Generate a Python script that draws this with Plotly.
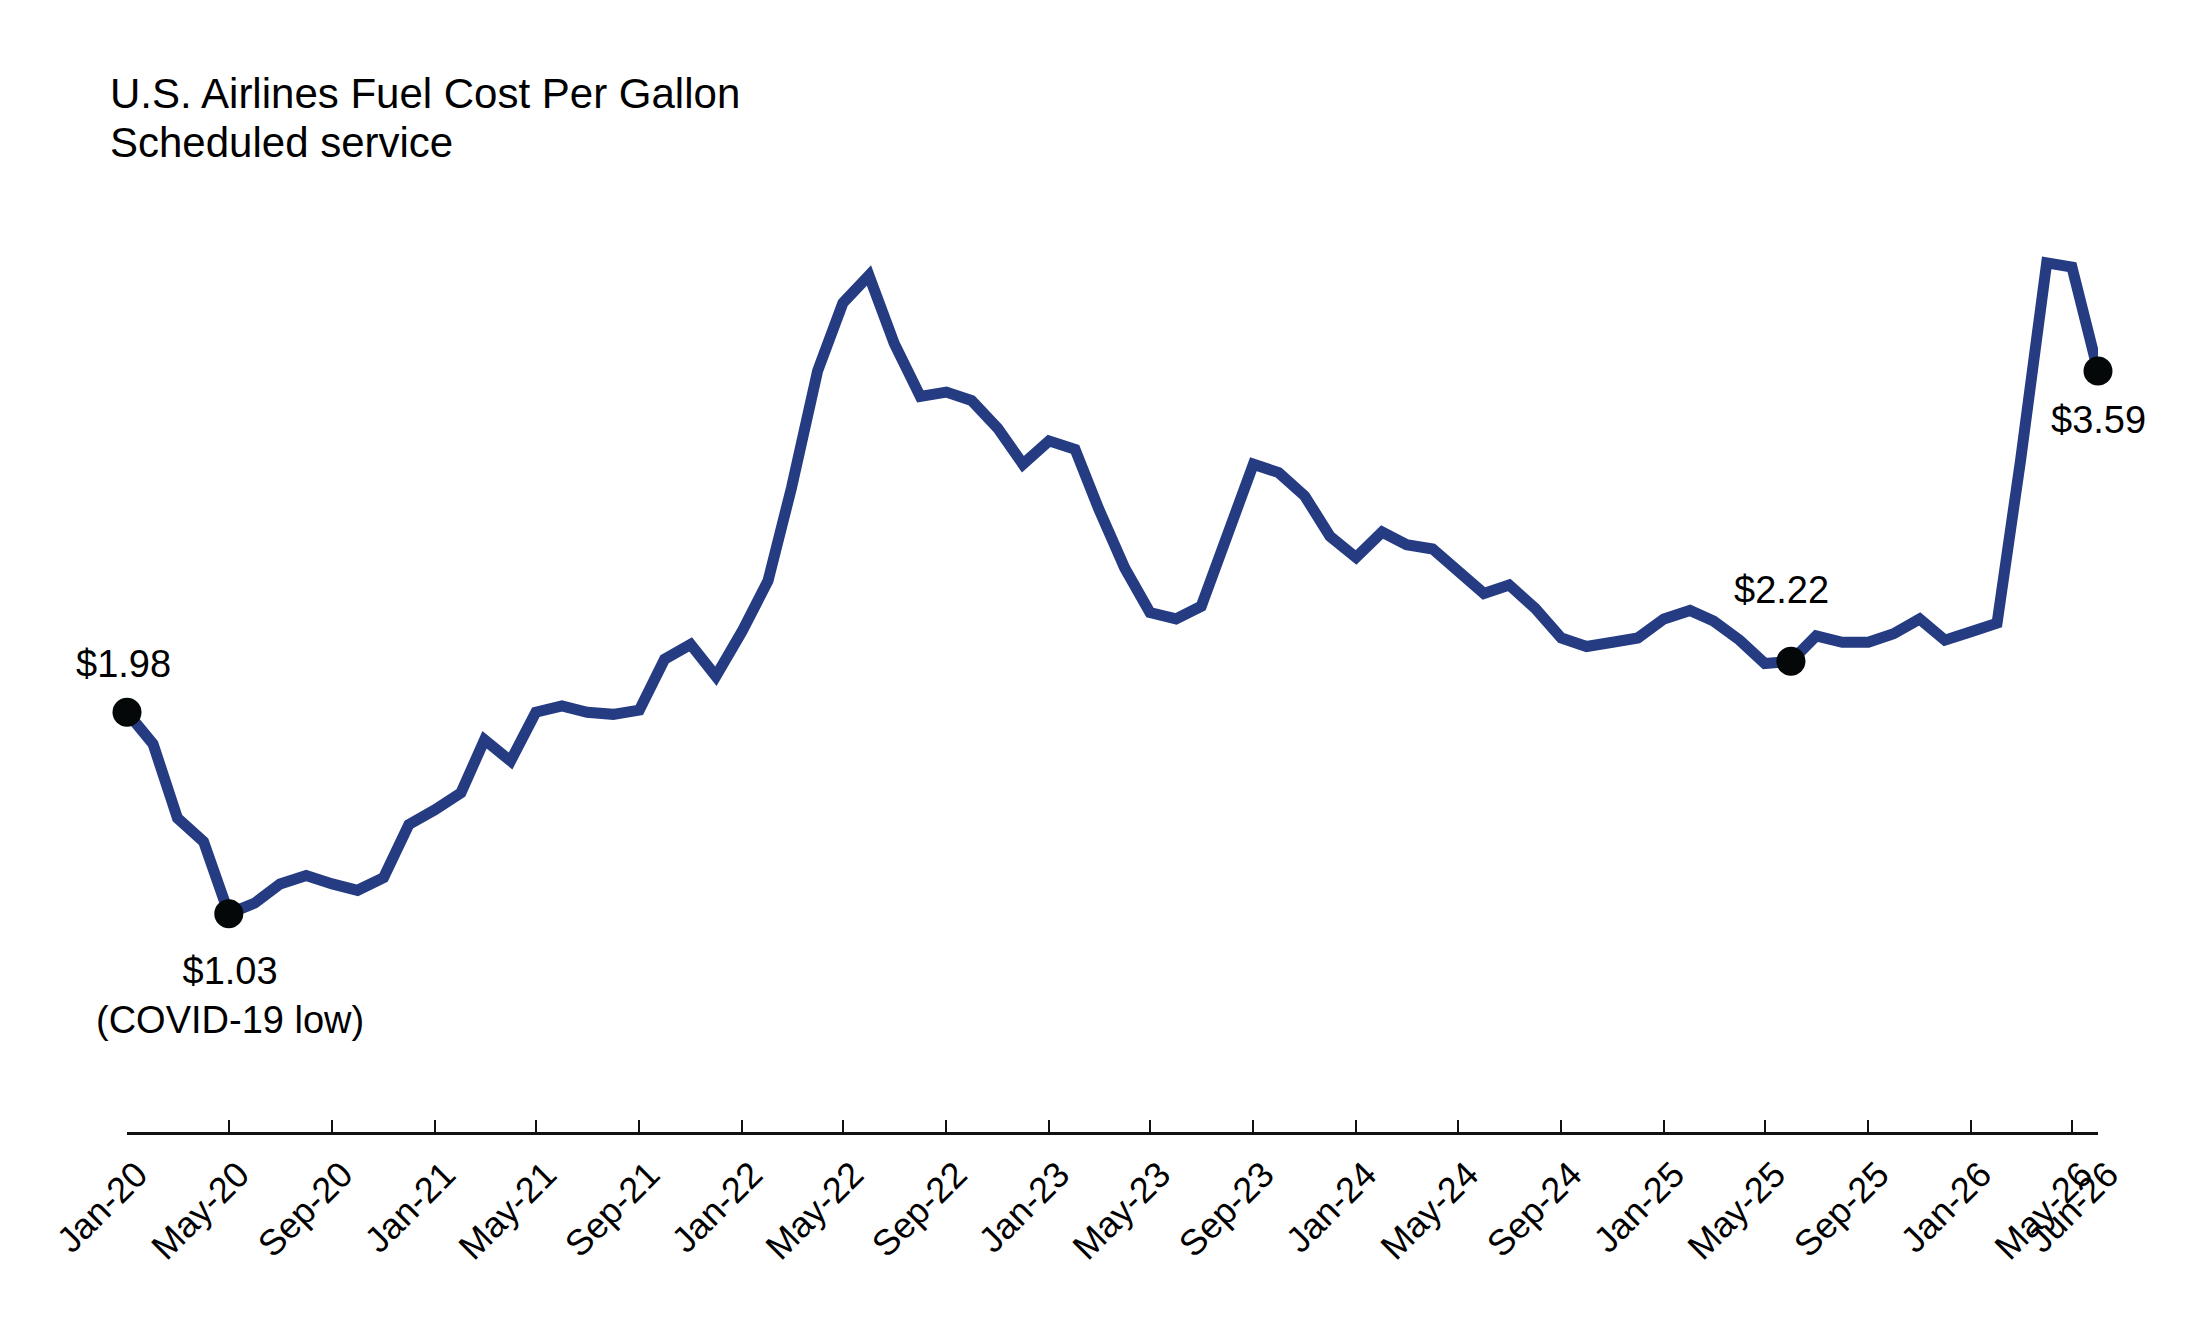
import pandas as pd
import plotly.graph_objects as go

# monthly fuel cost per gallon, Jan-20 .. Jun-26
months = pd.date_range("2020-01-01", periods=78, freq="MS")
cost = [
    1.98, 1.83, 1.48, 1.37, 1.03, 1.08, 1.17, 1.21, 1.17, 1.14, 1.20, 1.45,
    1.52, 1.60, 1.85, 1.75, 1.98, 2.01, 1.98, 1.97, 1.99, 2.23, 2.30, 2.15,
    2.36, 2.60, 3.04, 3.59, 3.91, 4.04, 3.72, 3.47, 3.49, 3.45, 3.32, 3.15,
    3.26, 3.22, 2.94, 2.66, 2.45, 2.42, 2.48, 2.83, 3.15, 3.11, 3.00, 2.81,
    2.71, 2.83, 2.77, 2.75, 2.65, 2.54, 2.58, 2.47, 2.33, 2.29, 2.31, 2.33,
    2.42, 2.46, 2.41, 2.32, 2.21, 2.22, 2.34, 2.31, 2.31, 2.35, 2.42, 2.32,
    2.36, 2.40, 3.17, 4.10, 4.08, 3.59,
]

tick_dates = ["2020-01-01", "2020-05-01", "2020-09-01", "2021-01-01", "2021-05-01",
              "2021-09-01", "2022-01-01", "2022-05-01", "2022-09-01", "2023-01-01",
              "2023-05-01", "2023-09-01", "2024-01-01", "2024-05-01", "2024-09-01",
              "2025-01-01", "2025-05-01", "2025-09-01", "2026-01-01", "2026-05-01",
              "2026-06-01"]
tick_labels = ["Jan-20", "May-20", "Sep-20", "Jan-21", "May-21", "Sep-21", "Jan-22",
               "May-22", "Sep-22", "Jan-23", "May-23", "Sep-23", "Jan-24", "May-24",
               "Sep-24", "Jan-25", "May-25", "Sep-25", "Jan-26", "May-26", "Jun-26"]

# highlighted points: index into the monthly series
callout_idx = [0, 4, 65, 77]
callout_note = ["", "<br>(COVID-19 low)", "", ""]
callout_shift = [(-4, 48), (1, -82), (-9, 71), (0, -49)]

FONT = "Liberation Sans, Arial, sans-serif"
LINE_BLUE = "#253b82"

fig = go.Figure()
fig.add_trace(go.Scatter(x=months, y=cost, mode="lines",
                         line=dict(color=LINE_BLUE, width=11),
                         cliponaxis=False, hoverinfo="x+y"))
fig.add_trace(go.Scatter(x=[months[i] for i in callout_idx],
                         y=[cost[i] for i in callout_idx],
                         mode="markers", marker=dict(color="#050808", size=29),
                         cliponaxis=False, hoverinfo="x+y"))

for i, note, (dx, dy) in zip(callout_idx, callout_note, callout_shift):
    fig.add_annotation(x=months[i], y=cost[i], text="${:.2f}{}".format(cost[i], note),
                       showarrow=False, xanchor="center", yanchor="middle",
                       xshift=dx, yshift=dy, font=dict(size=38, color="black"))

fig.add_annotation(x=-0.0096, y=1.1148, xref="paper", yref="paper",
                   text="U.S. Airlines Fuel Cost Per Gallon", showarrow=False,
                   xanchor="left", yanchor="middle", font=dict(size=42, color="black"))
fig.add_annotation(x=-0.0096, y=1.0622, xref="paper", yref="paper",
                   text="Scheduled service", showarrow=False,
                   xanchor="left", yanchor="middle", font=dict(size=42, color="black"))

fig.update_layout(
    width=2187, height=1332,
    margin=dict(l=119, r=97, t=192, b=208),
    paper_bgcolor="white", plot_bgcolor="white",
    showlegend=False,
    font=dict(family=FONT, color="black"),
)
fig.update_xaxes(range=["2020-01-01", "2026-06-01"], tickvals=tick_dates, ticktext=tick_labels,
                 tickangle=-45, tickfont=dict(size=36), ticklabelshift=10, ticklabelstandoff=4,
                 showline=True, linecolor="#111111",
                 linewidth=3, ticks="inside", ticklen=12, tickwidth=2, tickcolor="#111111",
                 showgrid=False, zeroline=False)
fig.update_yaxes(range=[0, 4.396], visible=False)

fig.write_html("out.html")
